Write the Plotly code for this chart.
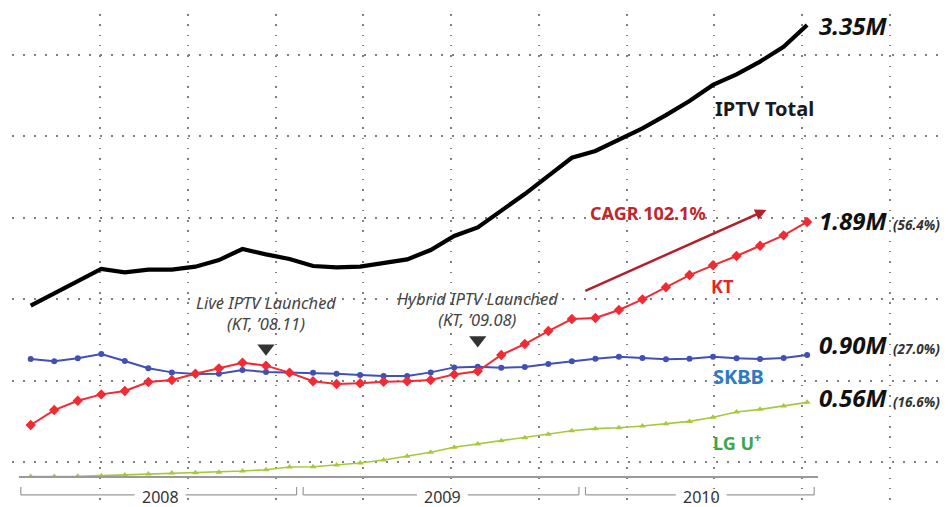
import plotly.graph_objects as go

# ---------------- data (millions of subscribers, monthly Jan 2008 - Oct 2010) ----------------
months = [f"{y}-{m:02d}" for y in (2008, 2009, 2010) for m in range(1, 13)][:34]

total = [1.269, 1.361, 1.452, 1.541, 1.516, 1.536, 1.536, 1.558, 1.607, 1.689, 1.649, 1.615,
         1.563, 1.553, 1.558, 1.587, 1.612, 1.681, 1.785, 1.849, 1.973, 2.096, 2.230, 2.365,
         2.415, 2.500, 2.583, 2.681, 2.785, 2.904, 2.983, 3.077, 3.187, 3.348]
kt = [0.385, 0.496, 0.565, 0.612, 0.637, 0.704, 0.719, 0.765, 0.805, 0.847, 0.825, 0.773,
      0.709, 0.689, 0.694, 0.706, 0.709, 0.719, 0.760, 0.783, 0.904, 0.985, 1.081, 1.170,
      1.178, 1.237, 1.316, 1.405, 1.496, 1.568, 1.637, 1.713, 1.790, 1.889]
skbb = [0.874, 0.857, 0.879, 0.911, 0.859, 0.805, 0.775, 0.763, 0.765, 0.793, 0.778, 0.773,
        0.773, 0.765, 0.756, 0.748, 0.748, 0.775, 0.812, 0.817, 0.810, 0.815, 0.837, 0.857,
        0.876, 0.891, 0.881, 0.872, 0.876, 0.891, 0.879, 0.874, 0.881, 0.904]
lg = [0.003, 0.003, 0.005, 0.010, 0.015, 0.022, 0.030, 0.032, 0.035, 0.044, 0.054, 0.074,
      0.076, 0.089, 0.104, 0.126, 0.153, 0.183, 0.220, 0.244, 0.269, 0.291, 0.316, 0.343,
      0.358, 0.365, 0.378, 0.395, 0.412, 0.442, 0.481, 0.501, 0.526, 0.553]

end_labels = ["3.35M", "1.89M", "0.90M", "0.56M"]
end_shares = ["", "(56.4%)", "(27.0%)", "(16.6%)"]
series_names = ["IPTV Total", "KT", "SKBB", "LG U<sup>+</sup>"]
years = ["2008", "2009", "2010"]
events = [("2008-11", "Live IPTV Launched", "(KT, ’08.11)"),
          ("2009-08", "Hybrid IPTV Launched", "(KT, ’09.08)")]
cagr_label = "CAGR 102.1%"

# ---------------- styling ----------------
FONT = "Noto Sans"
C_TOTAL, C_KT, C_SK, C_LG = "#000000", "#f02b33", "#4050b4", "#a6c83a"
C_KT_TXT, C_SK_TXT, C_LG_TXT, C_CAGR = "#e8232b", "#2f7bc2", "#3aa84a", "#c0262e"
GRID = "#808080"

x = list(range(len(months)))
last = x[-1]

fig = go.Figure()
fig.add_trace(go.Scatter(x=x, y=lg, mode="lines+markers",
                         line=dict(color=C_LG, width=1.6),
                         marker=dict(symbol="triangle-up", size=6, color=C_LG)))
fig.add_trace(go.Scatter(x=x, y=skbb, mode="lines+markers",
                         line=dict(color=C_SK, width=2),
                         marker=dict(symbol="circle", size=6, color=C_SK)))
fig.add_trace(go.Scatter(x=x, y=kt, mode="lines+markers",
                         line=dict(color=C_KT, width=2),
                         marker=dict(symbol="diamond", size=8, color=C_KT)))
fig.add_trace(go.Scatter(x=x, y=total, mode="lines",
                         line=dict(color=C_TOTAL, width=4.2)))

ann = []
# end value labels
series_vals = [total, kt, skbb, lg]
yshifts = [0, 1, 10, 5]
for vals, lab, share, ys in zip(series_vals, end_labels, end_shares, yshifts):
    txt = f"<i><b>{lab}</b></i>"
    if share:
        txt += f" <span style='font-size:13.5px;color:#333'><i><b>{share}</b></i></span>"
    ann.append(dict(x=last + 0.42, y=vals[-1], xref="x", yref="y", text=txt,
                    showarrow=False, xanchor="left", yanchor="middle", yshift=ys,
                    font=dict(family=FONT, size=24, color="#111")))

# series name labels
name_pos = [(31.2, 2.733, "#1a1a1a", 20), (29.4, 1.415, C_KT_TXT, 18),
            (30.1, 0.743, C_SK_TXT, 20), (30.0, 0.261, C_LG_TXT, 18)]
for name, (nx, ny, col, sz) in zip(series_names, name_pos):
    ann.append(dict(x=nx, y=ny, xref="x", yref="y", text=f"<b>{name}</b>",
                    showarrow=False, font=dict(family=FONT, size=sz, color=col)))

# CAGR label and arrow
ann.append(dict(x=26.24, y=1.956, xref="x", yref="y", text=f"<b>{cagr_label}</b>",
                showarrow=False, font=dict(family=FONT, size=18, color=C_CAGR)))
ann.append(dict(x=31.27, y=1.978, ax=23.51, ay=1.374, xref="x", yref="y",
                axref="x", ayref="y", text=" ", showarrow=True, arrowhead=2,
                arrowsize=0.9, arrowwidth=2.5, arrowcolor="#b3202b",
                font=dict(size=1)))

# event annotations (text) + downward triangle pointers
ev_pos = [(1.216, 0.953), (1.241, 1.015)]
tri_x, tri_y = [], []
for (m, l1, l2), (ty, tri) in zip(events, ev_pos):
    ex = months.index(m)
    ann.append(dict(x=ex, y=ty, xref="x", yref="y", text=f"<i>{l1}<br>{l2}</i>",
                    showarrow=False, font=dict(family=FONT, size=16.5, color="#444")))
    tri_x.append(ex)
    tri_y.append(tri)
fig.add_trace(go.Scatter(x=tri_x, y=tri_y, mode="markers", hoverinfo="skip",
                         marker=dict(symbol="triangle-down", size=15, color="#333")))

# year brackets
shapes = []
shapes.append(dict(type="line", xref="x", yref="y", x0=-0.5, x1=last + 0.46, y0=0, y1=0,
                   line=dict(color="#9a9a9a", width=2)))
BR_Y, BR_TOP, GAP = -0.133, -0.074, 1.08
for yr in years:
    idxs = [i for i, m in enumerate(months) if m.startswith(yr)]
    a, b = idxs[0] - 0.42, idxs[-1] + 0.3
    c = (idxs[0] + idxs[-1]) / 2
    bc = dict(color="#9a9a9a", width=1.2)
    shapes.append(dict(type="line", xref="x", yref="y", x0=a, x1=c - GAP, y0=BR_Y, y1=BR_Y, line=bc))
    shapes.append(dict(type="line", xref="x", yref="y", x0=c + GAP, x1=b, y0=BR_Y, y1=BR_Y, line=bc))
    shapes.append(dict(type="line", xref="x", yref="y", x0=a, x1=a, y0=BR_Y, y1=BR_TOP, line=bc))
    shapes.append(dict(type="line", xref="x", yref="y", x0=b, x1=b, y0=BR_Y, y1=BR_TOP, line=bc))
    ann.append(dict(x=c, y=BR_Y, xref="x", yref="y", text=yr, showarrow=False,
                    yshift=-2, font=dict(family=FONT, size=16, color="#333")))

# the page body adds an 8px offset; the figure is sized/margined to compensate
fig.update_layout(
    width=941, height=499,
    margin=dict(l=4, r=0, t=6, b=0),
    paper_bgcolor="white", plot_bgcolor="white",
    showlegend=False,
    annotations=ann, shapes=shapes,
    xaxis=dict(range=[-0.795, 39.03], tickmode="linear", tick0=-0.765, dtick=3.727,
               showgrid=True, gridcolor=GRID, gridwidth=1.5, griddash="1.5px,8.8px",
               showticklabels=False, ticks="", zeroline=False, showline=False),
    yaxis=dict(range=[-0.2222, 3.4296], tickmode="linear", tick0=0.109, dtick=0.6037,
               showgrid=True, gridcolor=GRID, gridwidth=1.5, griddash="1.5px,9.5px",
               showticklabels=False, ticks="", zeroline=False, showline=False),
)

fig.write_html("out.html")
